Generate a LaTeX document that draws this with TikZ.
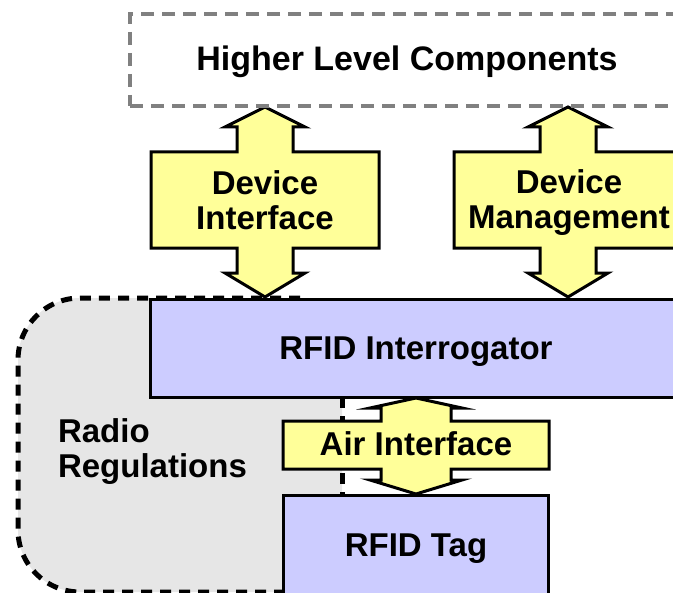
\documentclass[tikz,border=0pt]{standalone}
\usepackage{fontspec}
\setmainfont{Liberation Sans}

\definecolor{arrowfill}{RGB}{255,255,153}
\definecolor{boxfill}{RGB}{204,204,255}
\definecolor{regionfill}{RGB}{230,230,230}
\definecolor{framegray}{RGB}{128,128,128}

\tikzset{
  labeltext/.style={font=\fontsize{33bp}{35bp}\selectfont\bfseries, inner sep=0pt, outer sep=0pt, align=center},
  blockbox/.style={draw=black, fill=boxfill, line width=3bp, rectangle, inner sep=0pt, outer sep=0pt, anchor=north west},
  blockarrow/.style={draw=black, fill=arrowfill, line width=3bp, line join=miter},
  regionline/.style={draw=black, line width=5bp, dash pattern=on 11bp off 8bp},
  upperframe/.style={draw=framegray, line width=3.5bp, dash pattern=on 13bp off 8bp, rectangle, inner sep=0pt, outer sep=0pt, anchor=north west},
}

\begin{document}
\begin{tikzpicture}[x=1bp,y=-1bp]
\useasboundingbox (0,0) rectangle (673,593);
\clip (0,0) rectangle (673,593);

% radio regulations region behind the interrogator and the tag
\fill[regionfill, rounded corners=62bp] (342,298) -- (18,298) -- (18,592) -- (342,592);
\draw[regionline, rounded corners=62bp] (300,298) -- (18,298) -- (18,592) -- (283,592);
\draw[regionline] (342,397) -- (342,495);

% device interface
\path[blockarrow] (265,107) -- (305,127) -- (293,127) -- (293,152) -- (379,152) -- (379,248)
  -- (293,248) -- (293,273) -- (305,273) -- (265,297) -- (225,273) -- (237,273) -- (237,248)
  -- (151,248) -- (151,152) -- (237,152) -- (237,127) -- (225,127) -- cycle;
% device management
\path[blockarrow] (568,107) -- (608,127) -- (596,127) -- (596,152) -- (682,152) -- (682,248)
  -- (596,248) -- (596,273) -- (608,273) -- (568,297) -- (528,273) -- (540,273) -- (540,248)
  -- (454,248) -- (454,152) -- (540,152) -- (540,127) -- (528,127) -- cycle;
% air interface
\path[blockarrow] (416,398) -- (462,408) -- (451,408) -- (451,421) -- (549,421) -- (549,469)
  -- (451,469) -- (451,480) -- (462,480) -- (416,494) -- (370,480) -- (381,480) -- (381,469)
  -- (283,469) -- (283,421) -- (381,421) -- (381,408) -- (370,408) -- cycle;

% boxes
\node (hlc) [upperframe, minimum width=554bp, minimum height=92bp] at (130,14) {};
\node (rfidint) [blockbox, minimum width=532bp, minimum height=98bp] at (150,299) {};
\node (rfidtag) [blockbox, minimum width=265bp, minimum height=120bp] at (283,495) {};

% texts
\node (hlctext) [labeltext, font=\fontsize{34bp}{36bp}\selectfont\bfseries, anchor=base] at (407,71) {Higher Level Components};
\node (ditext) [labeltext] at (265,200) {Device\\Interface};
\node (dmtext) [labeltext] at (569,203) {Device\\Management};
\node (inttext) [labeltext, anchor=base] at (416,359) {RFID Interrogator};
\node (airtext) [labeltext, anchor=base] at (416,455) {Air Interface};
\node (tagtext) [labeltext, anchor=base] at (416,556) {RFID Tag};
\node (regtext) [labeltext, align=left, anchor=west] at (58,452) {Radio\\Regulations};
\end{tikzpicture}
\end{document}
